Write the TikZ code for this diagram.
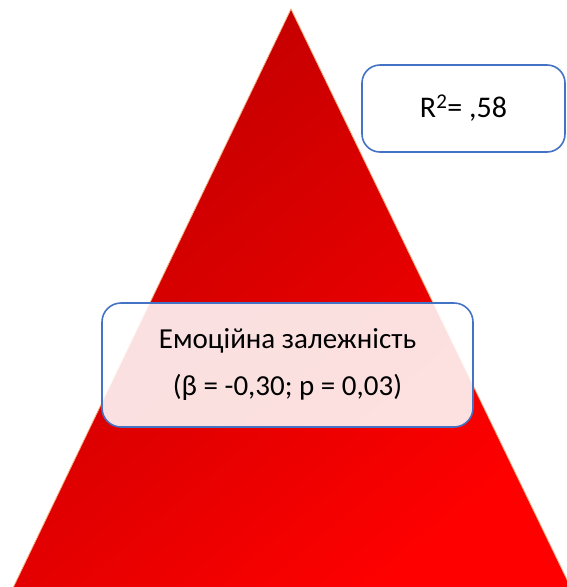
\documentclass[tikz,border=0pt]{standalone}
\usepackage{fontspec}
\setmainfont{Carlito}
\usepackage{xcolor}
\usetikzlibrary{positioning}
\definecolor{pyramiddark}{HTML}{C00000}
\definecolor{pyramidbright}{HTML}{FF0000}
\definecolor{pyramidedge}{HTML}{F4B183}
\definecolor{boxblue}{HTML}{4472C4}

\begin{document}
\begin{tikzpicture}[
  x=1pt,y=-1pt,
  pyramid/.style={draw=pyramidedge,line width=0.8pt,top color=pyramiddark,bottom color=pyramidbright,shading angle=40},
  statbox/.style={draw=boxblue,line width=1.6pt,fill=white,rounded corners=18pt,minimum width=203pt,minimum height=87pt,align=center,font=\fontsize{30}{34}\selectfont},
  factorbox/.style={draw=boxblue,line width=1.6pt,fill=white,fill opacity=0.88,text opacity=1,rounded corners=19pt,minimum width=371pt,minimum height=124pt,align=center,font=\fontsize{29}{47}\selectfont}
]
\useasboundingbox (0,0) rectangle (566,587);
% pyramid
\coordinate (apex) at (291,9);
\coordinate (baseL) at (12,590);
\coordinate (baseR) at (572,590);
\shade[pyramid] (apex) -- (baseR) -- (baseL) -- cycle;
% boxes
\node[statbox] (rsq) at (463.5,108.5) {R\textsuperscript{2}= ,58};
\node[factorbox] (emotion) at (287.5,365) {Емоційна залежність\\(β = -0,30; p = 0,03)};
\end{tikzpicture}
\end{document}
